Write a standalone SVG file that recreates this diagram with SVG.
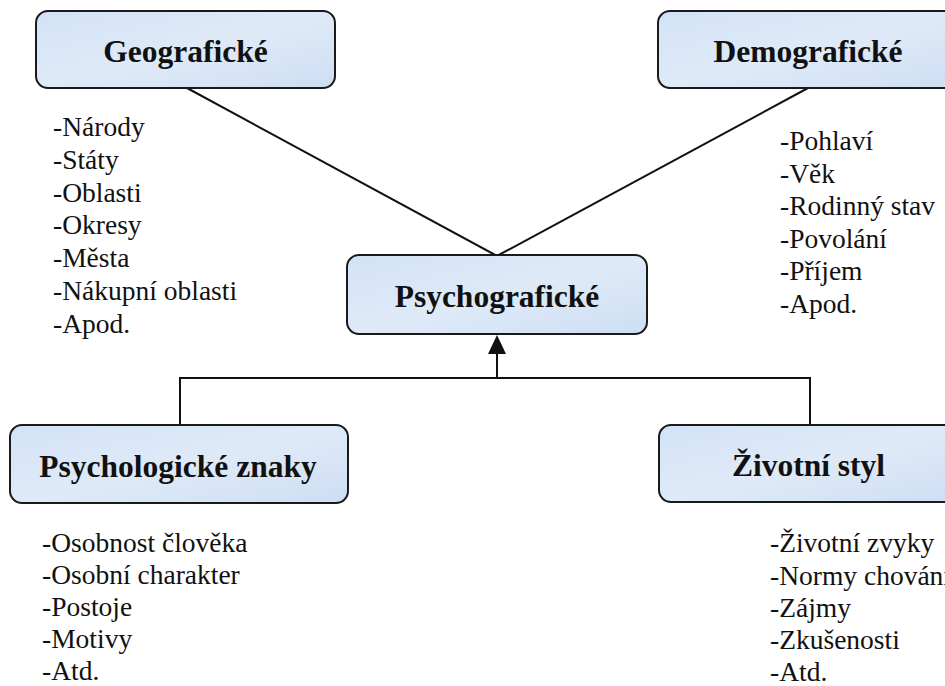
<svg xmlns="http://www.w3.org/2000/svg" width="945" height="686" viewBox="0 0 945 686">
<style>
.box{fill:url(#bg);stroke:#1a1a1a;stroke-width:2}
.title{font-family:'Liberation Serif','Times New Roman',serif;font-weight:bold;font-size:31.5px;fill:#111;text-anchor:middle}
.item{font-family:'Liberation Serif','Times New Roman',serif;font-size:27.5px;fill:#111}
.conn{stroke:#111;stroke-width:2;fill:none}
</style>
<defs>
<linearGradient id="bg" x1="0" y1="0" x2="1" y2="1">
<stop offset="0" stop-color="#d2e2f6"/>
<stop offset="0.5" stop-color="#dfeaf8"/>
<stop offset="1" stop-color="#cddef3"/>
</linearGradient>
</defs>
<g id="connectors">
<line class="conn" x1="187" y1="88" x2="497" y2="256"/>
<line class="conn" x1="808" y1="88" x2="497" y2="256"/>
<polyline class="conn" points="180,425 180,378 810,378 810,425"/>
<line class="conn" x1="497" y1="378" x2="497" y2="353"/>
<path d="M497 335 L506 354 L488 354 Z" fill="#111"/>
</g>
<g id="geograficke">
<rect class="box" x="36" y="11" width="299" height="77" rx="12"/>
<text class="title" x="185.5" y="62">Geografické</text>
</g>
<g id="geograficke-list">
<text class="item" x="53" y="136">-Národy</text>
<text class="item" x="53" y="169">-Státy</text>
<text class="item" x="53" y="202">-Oblasti</text>
<text class="item" x="53" y="234">-Okresy</text>
<text class="item" x="53" y="267">-Města</text>
<text class="item" x="53" y="300">-Nákupní oblasti</text>
<text class="item" x="53" y="333">-Apod.</text>
</g>
<g id="demograficke">
<rect class="box" x="658" y="11" width="300" height="77" rx="12"/>
<text class="title" x="808" y="62">Demografické</text>
</g>
<g id="demograficke-list">
<text class="item" x="780" y="150">-Pohlaví</text>
<text class="item" x="780" y="183">-Věk</text>
<text class="item" x="780" y="215">-Rodinný stav</text>
<text class="item" x="780" y="248">-Povolání</text>
<text class="item" x="780" y="280">-Příjem</text>
<text class="item" x="780" y="313">-Apod.</text>
</g>
<g id="psychograficke">
<rect class="box" x="347" y="255" width="300" height="79" rx="12"/>
<text class="title" x="497" y="307">Psychografické</text>
</g>
<g id="psychologicke">
<rect class="box" x="10" y="425" width="338" height="78" rx="12"/>
<text class="title" x="178" y="477">Psychologické znaky</text>
</g>
<g id="psychologicke-list">
<text class="item" x="42" y="552">-Osobnost člověka</text>
<text class="item" x="42" y="584">-Osobní charakter</text>
<text class="item" x="42" y="616">-Postoje</text>
<text class="item" x="42" y="648">-Motivy</text>
<text class="item" x="42" y="680">-Atd.</text>
</g>
<g id="zivotni">
<rect class="box" x="659" y="425" width="302" height="77" rx="12"/>
<text class="title" x="808.5" y="476">Životní styl</text>
</g>
<g id="zivotni-list">
<text class="item" x="770" y="552">-Životní zvyky</text>
<text class="item" x="770" y="585">-Normy chování</text>
<text class="item" x="770" y="617">-Zájmy</text>
<text class="item" x="770" y="649">-Zkušenosti</text>
<text class="item" x="770" y="681">-Atd.</text>
</g>
</svg>
